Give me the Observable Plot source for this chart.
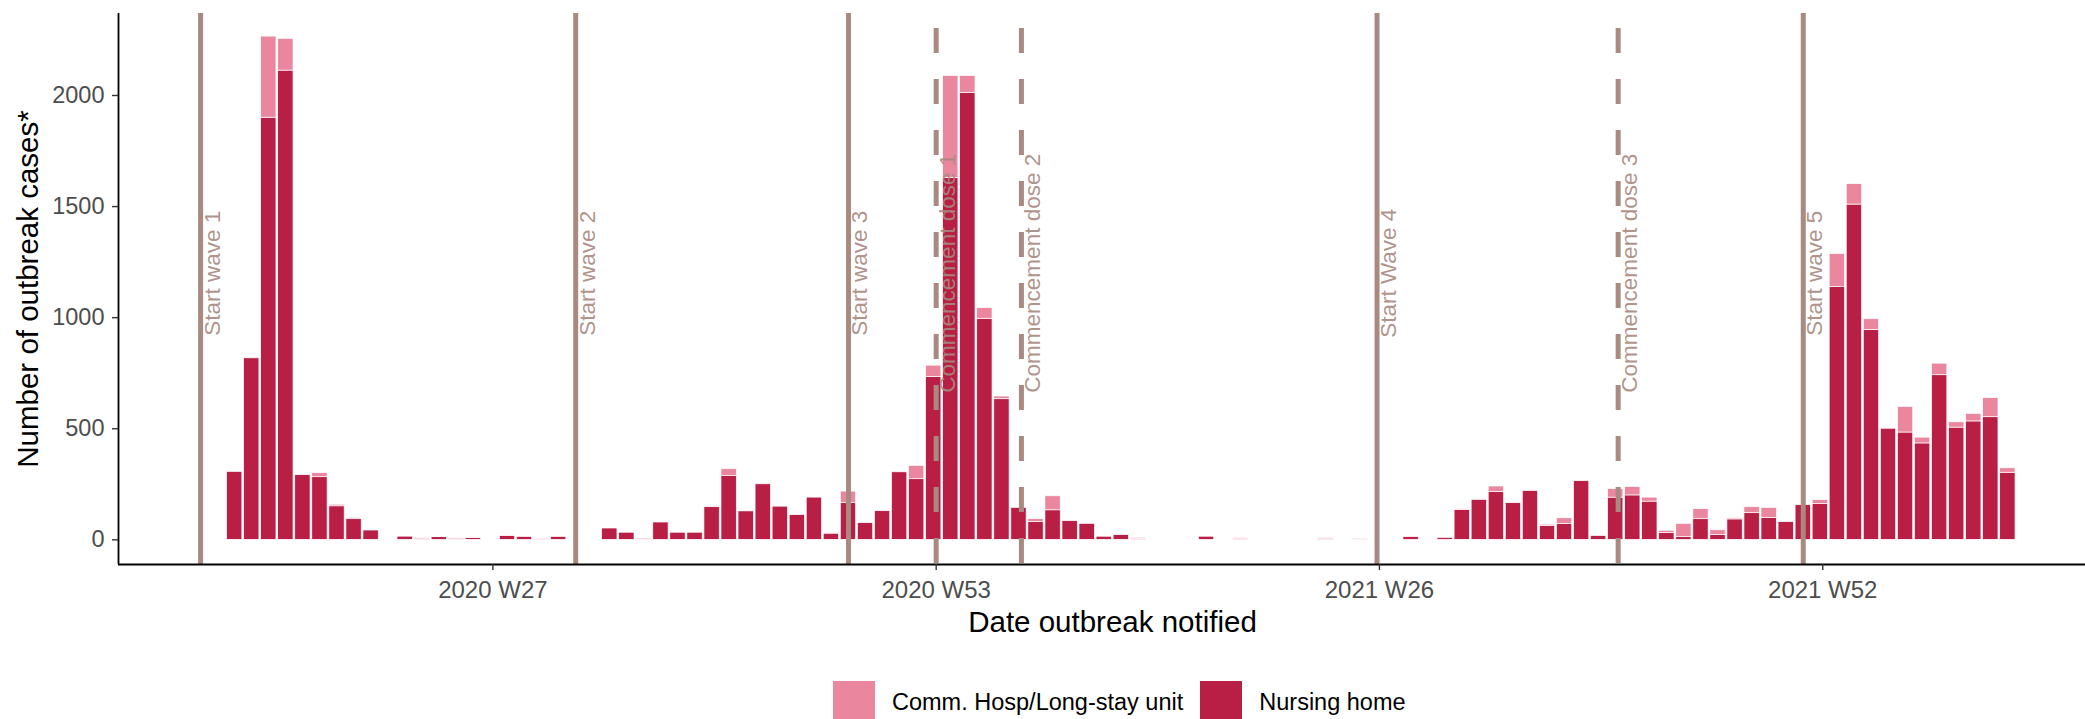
<!DOCTYPE html>
<html>
<head>
<meta charset="utf-8">
<script src="https://cdn.jsdelivr.net/npm/d3@7"></script>
<script src="https://cdn.jsdelivr.net/npm/@observablehq/plot@0.6"></script>
<style>
  html, body { margin: 0; padding: 0; background: #fff; overflow: hidden; width: 2085px; height: 719px; }
  #chart { position: absolute; left: 0; top: 0; width: 2106px; }
  #chart svg { max-width: none !important; height: 670px !important; }
  #legend { position: absolute; left: 833px; top: 681px; display: flex; align-items: center;
            font-family: "Liberation Sans", Arial, sans-serif; font-size: 23.5px; color: #000; white-space: nowrap; }
  #legend .sw { width: 42px; height: 42px; flex: none; }
  #legend .lab { margin-left: 17px; margin-right: 17px; }
</style>
</head>
<body>
<div id="chart"></div>
<div id="legend"></div>
<script>
// ---- data ----
// weekly bars, 2020 W12 ... 2022 W11 (dates = Sunday that opens each notified week)
const firstWeekSunday = "2020-03-15";
const nursingHome = [
  306, 817, 1900, 2112, 291, 282, 151, 93, 42, 0,
  15, 5, 12, 5, 8, 0, 18, 14, 2, 14,
  0, 0, 51, 32, 0, 78, 32, 32, 147, 287,
  128, 250, 150, 112, 190, 28, 166, 75, 129, 304,
  273, 733, 1628, 2012, 995, 633, 144, 81, 133, 84,
  72, 14, 22, 4, 0, 0, 0, 14, 0, 3,
  0, 0, 0, 0, 3, 0, 0, 0, 0, 12,
  0, 9, 134, 180, 216, 165, 220, 62, 72, 264,
  17, 190, 200, 172, 31, 12, 93, 22, 92, 120,
  98, 80, 156, 161, 1138, 1509, 945, 500, 483, 434,
  741, 505, 533, 552, 302
];
const commHosp = [
  0, 0, 365, 143, 0, 18, 7, 6, 0, 0,
  2, 2, 1, 2, 1, 0, 1, 1, 4, 1,
  0, 0, 0, 0, 5, 0, 0, 0, 0, 31,
  0, 0, 2, 2, 0, 2, 51, 0, 0, 0,
  60, 51, 460, 76, 48, 12, 0, 12, 63, 0,
  0, 0, 2, 5, 0, 0, 0, 0, 0, 5,
  0, 0, 0, 0, 5, 0, 4, 0, 0, 0,
  0, 0, 4, 0, 24, 0, 0, 6, 25, 0,
  0, 38, 38, 18, 10, 60, 45, 21, 5, 27,
  46, 0, 0, 18, 148, 92, 48, 0, 115, 26,
  52, 24, 34, 86, 20
];
const seriesNames = ["Comm. Hosp/Long-stay unit", "Nursing home"];
const seriesColors = ["#EA879F", "#B91E45"];

const tickDates = ["2020-06-29", "2020-12-28", "2021-06-28", "2021-12-27"];
const tickLabels = ["2020 W27", "2020 W53", "2021 W26", "2021 W52"];
const yTicks = [0, 500, 1000, 1500, 2000];

const eventLabels = ["Start wave 1", "Start wave 2", "Start wave 3", "Commencement dose 1",
                     "Commencement dose 2", "Start Wave 4", "Commencement dose 3", "Start wave 5"];
const eventDates  = ["2020-03-01", "2020-08-02", "2020-11-22", "2020-12-28",
                     "2021-02-01", "2021-06-27", "2021-10-04", "2021-12-19"];
const eventKinds  = ["wave", "wave", "wave", "dose", "dose", "wave", "dose", "wave"];

// ---- build tables ----
const WEEK = 7 * 24 * 3600 * 1000;
const start = new Date(firstWeekSunday + "T00:00Z");
const rows = [];
nursingHome.forEach((nh, i) => {
  const date = d3.utcWeek.offset(start, i);
  const ch = commHosp[i];
  if (nh > 0) rows.push({date, type: seriesNames[1], y1: 0, y2: nh});
  if (ch > 0) rows.push({date, type: seriesNames[0], y1: nh, y2: nh + ch});
});
const events = eventLabels.map((label, i) => ({label, date: new Date(eventDates[i] + "T00:00Z"), kind: eventKinds[i]}));
const waves = events.filter(e => e.kind === "wave");
const doses = events.filter(e => e.kind === "dose");
const ticks = tickDates.map(d => new Date(d + "T00:00Z"));
const fmtTick = d => tickLabels[ticks.findIndex(t => +t === +d)];

const lineColor = "#A88A80";
const font = "'Liberation Sans', Arial, sans-serif";
const xDomain = [new Date("2020-01-27T07:00Z"), new Date("2022-04-22T12:00Z")];
const yDomain = [-111, 2369];

const chart = Plot.plot({
  width: 2106,
  height: 670,
  marginLeft: 118,
  marginRight: 0,
  marginTop: 13,
  marginBottom: 106,
  style: {fontFamily: font, background: "white", overflow: "visible", maxWidth: "none"},
  x: {type: "utc", domain: xDomain},
  y: {domain: yDomain},
  color: {domain: seriesNames, range: seriesColors},
  marks: [
    Plot.rect(rows, {
      x1: d => new Date(+d.date - 0.45 * WEEK),
      x2: d => new Date(+d.date + 0.45 * WEEK),
      y1: "y1", y2: "y2", fill: "type", stroke: "white", strokeWidth: 0.7
    }),
    Plot.ruleX(waves, {x: "date", stroke: lineColor, strokeWidth: 5}),
    Plot.ruleX(doses, {x: "date", stroke: lineColor, strokeWidth: 5, strokeDasharray: "25,26", strokeDashoffset: 36}),
    Plot.text(events, {
      x: "date", y: () => 1200, text: "label", rotate: -90, lineAnchor: "top", textAnchor: "middle",
      dx: 3, fontSize: 22.5, fill: lineColor, fillOpacity: 0.92
    }),
    Plot.ruleY([yDomain[0]], {stroke: "black", strokeWidth: 1.8}),
    Plot.ruleX([xDomain[0]], {stroke: "black", strokeWidth: 1.8}),
    Plot.axisY({ticks: yTicks, tickFormat: d3.format("d"), tickSize: 6, tickPadding: 8, fontSize: 23.5, stroke: "#333", fill: "#4d4d4d", strokeWidth: 1.4, label: null}),
    Plot.axisX({ticks, tickFormat: fmtTick, tickSize: 6, tickPadding: 10, fontSize: 24, stroke: "#333", fill: "#4d4d4d", strokeWidth: 1.4, label: null}),
    Plot.text(["Number of outbreak cases*"], {text: d => d, frameAnchor: "left", rotate: -90, lineAnchor: "bottom", textAnchor: "middle", dx: -81, fontSize: 29.5, fill: "black"}),
    Plot.text(["Date outbreak notified"], {text: d => d, frameAnchor: "bottom", lineAnchor: "bottom", dy: 67, fontSize: 29.5, fill: "black"})
  ]
});
document.getElementById("chart").appendChild(chart);

// legend
const legend = document.getElementById("legend");
seriesNames.forEach((name, i) => {
  const sw = document.createElement("div");
  sw.className = "sw";
  sw.style.background = seriesColors[i];
  const lab = document.createElement("span");
  lab.className = "lab";
  lab.textContent = name;
  legend.appendChild(sw);
  legend.appendChild(lab);
});
</script>
</body>
</html>
